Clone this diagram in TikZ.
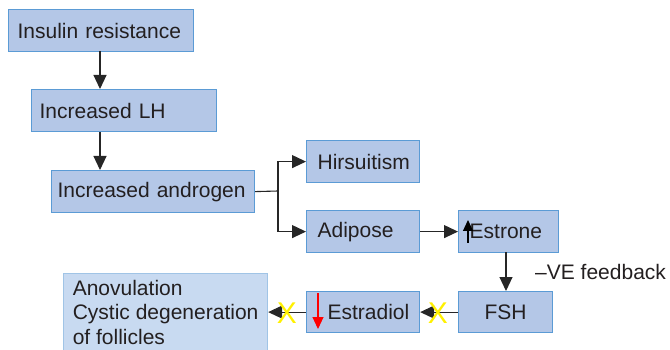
\documentclass[tikz,border=0pt]{standalone}
\usepackage{fontspec}
\setmainfont{Liberation Sans}
\usetikzlibrary{arrows.meta}
\definecolor{bfill}{RGB}{180,199,231}
\definecolor{bdr}{RGB}{91,155,213}
\definecolor{lfill}{RGB}{200,218,241}
\definecolor{ldr}{RGB}{160,196,230}
\definecolor{xyel}{RGB}{255,240,0}
\definecolor{txt}{RGB}{35,31,32}
\begin{document}
\begin{tikzpicture}[x=1pt,y=-1pt,
  box/.style={draw=bdr, fill=bfill, line width=1.2pt, minimum height=42pt, inner ysep=0pt,
    anchor=north west, align=left, text=txt, font=\fontsize{21}{24.5}\selectfont},
  lbox/.style={box, draw=ldr, fill=lfill},
  arr/.style={line width=1.1pt, draw=black!85, -{Triangle[length=14pt,width=13pt]}},
  cross/.style={text=xyel, font=\fontsize{30}{30}\selectfont, inner sep=0pt}]
\useasboundingbox (0,0) rectangle (670,350);
\node[box, inner xsep=9pt, text width=167pt] (ins) at (8,9) {Insulin resistance};
\node[box, inner xsep=8pt, text width=169pt] (lh) at (31,89) {Increased LH};
\node[box, inner xsep=6pt, text width=191pt] (and) at (51,170) {Increased androgen};
\node[box, inner xsep=11pt, text width=91pt] (hir) at (306,140) {Hirsuitism};
\node[box, inner xsep=11pt, text width=91pt] (adi) at (306,210) {Adipose};
\node[box, inner xsep=0pt, text width=79pt, minimum width=100pt, align=right] (est) at (458,210) {Estrone\hspace*{6pt}};
\node[box, inner xsep=0pt, text width=94pt, minimum height=41pt, align=center] (fsh) at (458,291) {FSH};
\node[box, inner xsep=0pt, text width=113pt, minimum height=41pt, align=left] (estr) at (306,291) {\hspace*{21pt}Estradiol};
\node[lbox, inner xsep=8pt, minimum width=204pt, minimum height=77pt] (ano) at (63,273) {Anovulation\\Cystic degeneration\\of follicles};
% connectors
\draw[arr] (100,51) coordinate (a1) -- (a1 |- lh.north);
\draw[arr] (a1 |- lh.south) -- (a1 |- and.north);
\draw[line width=1.1pt, draw=black!85] (and.east) -- (278,191) coordinate (br);
\draw[arr] (br) |- (hir.west);
\draw[arr] (br) |- (adi.west);
\draw[arr] (adi.east) -- (est.west);
\draw[arr] (506,252) coordinate (a2) -- (a2 |- fsh.north);
\draw[arr] (fsh.west) -- (estr.east);
\draw[arr] (estr.west) -- (ano.east);
\node[anchor=west, text=txt, font=\fontsize{21}{24.5}\selectfont, inner sep=0pt] (fb) at (535,272) {–VE feedback};
% crosses
\node[cross] (x1) at (438,313) {X};
\node[cross] (x2) at (287,313) {X};
% inner arrows
\draw[line width=1.1pt, -{Triangle[length=11pt,width=10pt]}] (468,243) coordinate (u1) -- (468,220) coordinate (u2);
\draw[red, line width=1.1pt, -{Triangle[length=12pt,width=11pt]}] (318,293) coordinate (d1) -- (318,329) coordinate (d2);
\end{tikzpicture}
\end{document}
